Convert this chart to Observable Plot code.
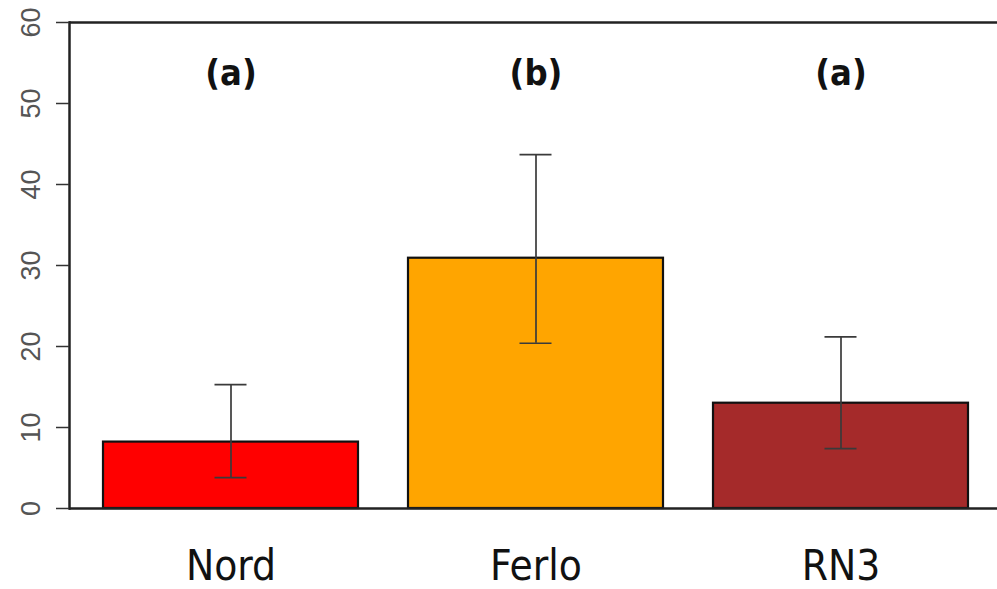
<!DOCTYPE html>
<html>
<head>
<meta charset="utf-8">
<script src="https://cdn.jsdelivr.net/npm/d3@7"></script>
<script src="https://cdn.jsdelivr.net/npm/@observablehq/plot@0.6"></script>
<style>
  html, body { margin: 0; padding: 0; background: #fff; }
</style>
</head>
<body>
<div id="chart"></div>
<script>
const categories = ["Nord", "Ferlo", "RN3"];
const means = [8.2, 30.9, 13.0];
const lower = [3.8, 20.4, 7.4];
const upper = [15.3, 43.7, 21.2];
const letters = ["(a)", "(b)", "(a)"];
const letterY = [53.7, 53.7, 53.7];
const colors = ["#FF0000", "#FFA500", "#A52A2A"];
const yTicks = [0, 10, 20, 30, 40, 50, 60];

const data = categories.map((c, i) => ({
  cat: c, mean: means[i], lo: lower[i], hi: upper[i],
  letter: letters[i], ly: letterY[i], color: colors[i]
}));

const chart = Plot.plot({
  width: 997,
  height: 589,
  marginLeft: 69,
  marginRight: 0,
  marginTop: 22,
  marginBottom: 81,
  style: { background: "#fff", fontFamily: "'Liberation Sans', Arial, sans-serif" },
  x: { domain: categories, paddingInner: 0.165, paddingOuter: 0.101, align: 0.54, label: null },
  y: { domain: [0, 60], label: null },
  marks: [
    Plot.barY(data, { x: "cat", y: "mean", fill: "color", stroke: "#111", strokeWidth: 2.2 }),
    Plot.ruleX(data, { x: "cat", y1: "lo", y2: "hi", stroke: "#3a3a3a", strokeWidth: 1.7 }),
    Plot.tickY(data, { x: "cat", y: "lo", stroke: "#3a3a3a", strokeWidth: 1.7, insetLeft: 111.5, insetRight: 111.5 }),
    Plot.tickY(data, { x: "cat", y: "hi", stroke: "#3a3a3a", strokeWidth: 1.7, insetLeft: 111.5, insetRight: 111.5 }),
    Plot.text(data, { x: "cat", y: "ly", text: "letter", fontSize: 36, fontWeight: "bold",
      fontFamily: "'DejaVu Sans Condensed', 'DejaVu Sans', sans-serif", fill: "#111", lineAnchor: "middle" }),
    Plot.ruleY([0, 60], { stroke: "#222", strokeWidth: 2.5 }),
    Plot.frame({ anchor: "left", stroke: "#222", strokeWidth: 2.5 }),
    Plot.axisY(yTicks, { tickSize: 13, tickPadding: 17, tickRotate: -90, fontSize: 27,
      stroke: "#333", strokeWidth: 1.5, fill: "#555", label: null }),
    Plot.axisX({ tickSize: 0, tickPadding: 42, fontSize: 42,
      fontFamily: "'DejaVu Sans Condensed', 'DejaVu Sans', sans-serif", fill: "#111", label: null })
  ]
});

document.getElementById("chart").appendChild(chart);
</script>
</body>
</html>
